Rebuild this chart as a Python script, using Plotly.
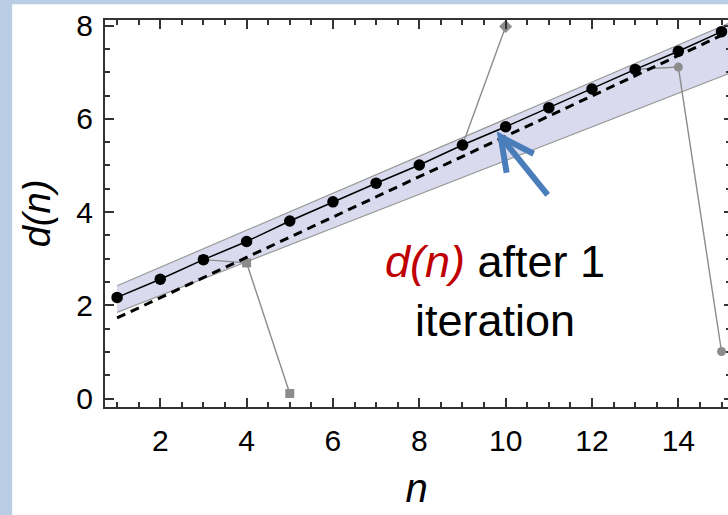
import plotly.graph_objects as go

# d(n) after one iteration, n = 1..15
n_vals = list(range(1, 16))
d_iter = [2.17, 2.56, 2.98, 3.37, 3.81, 4.22, 4.62, 5.01, 5.44, 5.83, 6.24, 6.64, 7.06, 7.45, 7.87]

# reference (dashed) line
ref_x = [1, 15.3]
ref_y = [1.73, 7.92]

# shaded band
band_x = [1, 15.3]
band_hi = [2.42, 8.10]
band_lo = [1.85, 7.02]

# grey excursions
sq_x, sq_y = [3, 4, 5], [2.98, 2.91, 0.11]
dia_x, dia_y = [9, 10], [5.44, 7.98]
circ_x, circ_y = [13, 14, 15], [7.06, 7.11, 1.01]

x_ticks = [2, 4, 6, 8, 10, 12, 14]
y_ticks = [0, 2, 4, 6, 8]

FONT = "Liberation Sans, Arial, sans-serif"
AXIS_C = "#333333"
GREY = "#8c8c8c"
BLUE = "#4a7ebb"

fig = go.Figure()

# band
fig.add_trace(go.Scatter(x=band_x, y=band_lo, mode="lines",
                         line=dict(color="#9a9a9a", width=1.2), showlegend=False, hoverinfo="skip"))
fig.add_trace(go.Scatter(x=band_x, y=band_hi, mode="lines", fill="tonexty",
                         fillcolor="rgb(218,218,238)",
                         line=dict(color="#9a9a9a", width=1.2), showlegend=False, hoverinfo="skip"))

# grey series
fig.add_trace(go.Scatter(x=sq_x, y=sq_y, mode="lines+markers",
                         line=dict(color=GREY, width=1.4),
                         marker=dict(symbol="square", size=9, color=GREY), showlegend=False))
fig.add_trace(go.Scatter(x=dia_x, y=dia_y, mode="lines+markers",
                         line=dict(color=GREY, width=1.4),
                         marker=dict(symbol="diamond", size=10, color=GREY), showlegend=False))
fig.add_trace(go.Scatter(x=circ_x, y=circ_y, mode="lines+markers",
                         line=dict(color=GREY, width=1.4),
                         marker=dict(symbol="circle", size=9, color=GREY), showlegend=False))

# dashed reference
fig.add_trace(go.Scatter(x=ref_x, y=ref_y, mode="lines",
                         line=dict(color="black", width=3, dash="9px,6px"),
                         showlegend=False))

# main series
fig.add_trace(go.Scatter(x=n_vals, y=d_iter, mode="lines+markers",
                         line=dict(color="black", width=1.5),
                         marker=dict(symbol="circle", size=11.5, color="black"),
                         showlegend=False))

# right-hand tick strip (shares the y range)
fig.add_trace(go.Scatter(x=n_vals, y=d_iter, yaxis="y2", mode="markers",
                         marker=dict(opacity=0), showlegend=False, hoverinfo="skip"))

# arrow pointing at n = 10
tip = (-5, -10)
fig.add_shape(type="line", xref="x", yref="y", xsizemode="pixel", ysizemode="pixel",
              xanchor=n_vals[9], yanchor=d_iter[9],
              x0=tip[0], y0=tip[1], x1=tip[0] + 47, y1=tip[1] - 58,
              line=dict(color=BLUE, width=6))
fig.add_shape(type="path", xref="x", yref="y", xsizemode="pixel", ysizemode="pixel",
              xanchor=n_vals[9], yanchor=d_iter[9],
              path=f"M {tip[0]+33},{tip[1]-17} L {tip[0]},{tip[1]} L {tip[0]+6},{tip[1]-36}",
              line=dict(color=BLUE, width=6))

# white canvas over the light-blue page
fig.add_shape(type="rect", xref="paper", yref="paper", layer="below",
              x0=-0.149, x1=1.05, y0=-0.4, y1=1.041,
              fillcolor="white", line=dict(width=0))

fig.add_annotation(x=9.75, y=2.3, xref="x", yref="y", showarrow=False,
                   text='<i><span style="color:#c00000">d(n)</span></i> after 1<br>iteration',
                   font=dict(family=FONT, size=45, color="black"), align="center")

axis_common = dict(showline=True, linecolor=AXIS_C, linewidth=2, ticks="inside",
                   tickcolor=AXIS_C, tickwidth=1.5, ticklen=9, showgrid=False, zeroline=False,
                   tickfont=dict(family=FONT, size=30, color="black"))

fig.update_layout(
    width=728, height=515,
    margin=dict(l=105, r=0, t=20, b=108),
    paper_bgcolor="#b9cde5", plot_bgcolor="white",
    xaxis=dict(range=[0.72, 15.15], tickvals=x_ticks, mirror="ticks",
               minor=dict(dtick=0.5, tick0=0, ticks="inside", ticklen=5, tickcolor=AXIS_C),
               title=dict(text="<i>n</i>", font=dict(family=FONT, size=40, color="black"), standoff=18),
               ticklabelstandoff=6, **axis_common),
    yaxis=dict(range=[-0.18, 8.12], tickvals=y_ticks,
               minor=dict(dtick=0.5, tick0=0, ticks="inside", ticklen=5, tickcolor=AXIS_C),
               title=dict(text="<i>d(n)</i>", font=dict(family=FONT, size=38, color="black"), standoff=14),
               ticklabelstandoff=4, **axis_common),
    yaxis2=dict(overlaying="y", matches="y", side="right", anchor="x", showline=False,
                ticks="inside", ticklen=4, tickwidth=1.5, tickcolor=AXIS_C, tickvals=y_ticks,
                showticklabels=False, showgrid=False, zeroline=False,
                minor=dict(dtick=0.5, tick0=0, ticks="inside", ticklen=2, tickcolor=AXIS_C)),
)

fig.write_html("out.html")
